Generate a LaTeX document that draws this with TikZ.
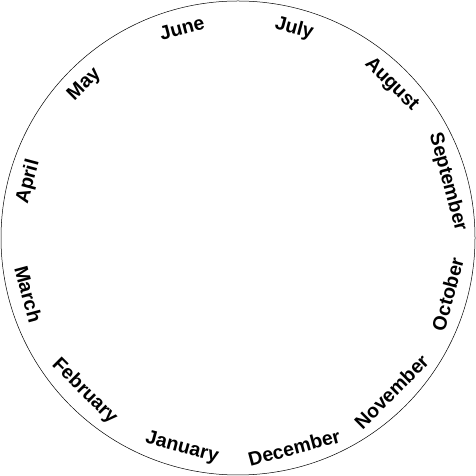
\documentclass[tikz,border=0pt]{standalone}
\usepackage{fontspec}
\setmainfont{Liberation Sans}
\usetikzlibrary{calc}
\begin{document}
\begin{tikzpicture}[x=1pt,y=1pt,
  month/.style={font=\fontsize{19.5}{21}\selectfont\bfseries, inner sep=0pt}]
\useasboundingbox (0,0) rectangle (476,476);
\node[draw, circle, minimum size=474pt, inner sep=0pt, line width=0.5pt] (ring) at (238,238) {};
\foreach \m/\a [count=\i] in {January/-105,February/-135,March/-165,April/165,May/135,June/105,July/75,August/45,September/15,October/-15,November/-45,December/-75}{
  \pgfmathsetmacro{\rot}{ifthenelse(\a<0,\a+90,\a-90)}
  \node[month, rotate=\rot] (m\i) at ($(ring.center)+(\a:217)$) {\m};
}
\end{tikzpicture}
\end{document}
